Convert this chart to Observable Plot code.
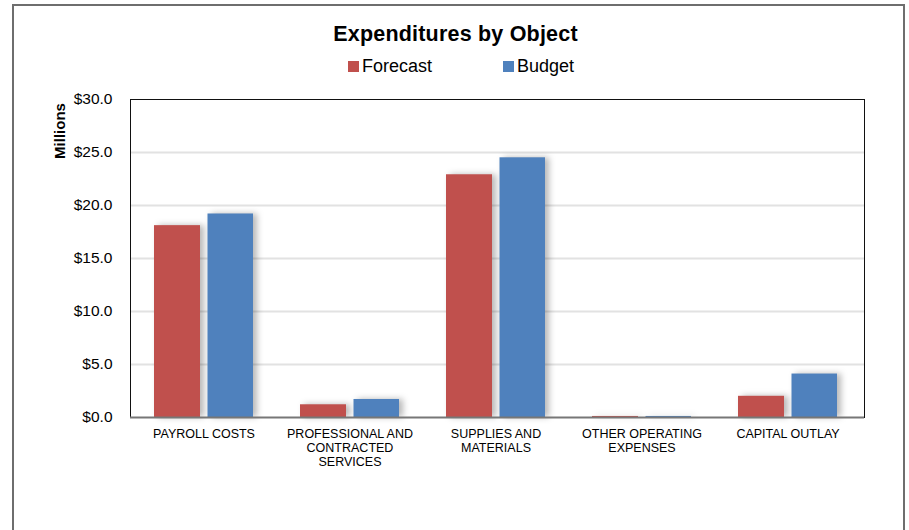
<!DOCTYPE html>
<html>
<head>
<meta charset="utf-8">
<script src="https://cdn.jsdelivr.net/npm/d3@7"></script>
<script src="https://cdn.jsdelivr.net/npm/@observablehq/plot@0.6"></script>
<style>
  html, body { margin: 0; padding: 0; background: #fff; }
  body { width: 909px; height: 530px; position: relative; overflow: hidden; font-family: "Liberation Sans", Arial, sans-serif; }
  #box { position: absolute; left: 12px; top: 4px; width: 893px; height: 600px; border: 2px solid #6e6e6e; box-sizing: border-box; }
  #title { position: absolute; left: 0; width: 911px; top: 22px; text-align: center; font-weight: bold; font-size: 21.5px; color: #000; letter-spacing: 0.2px; }
  #legend { position: absolute; top: 55px; left: 0; width: 909px; height: 24px; }
  .item { position: absolute; top: 0; font-size: 18px; color: #000; line-height: 22px; }
  .sw { display: inline-block; width: 11px; height: 11px; margin-right: 3px; vertical-align: 0px; }
  #ylabel { position: absolute; left: 59px; top: 131px; transform: translate(-50%, -50%) rotate(-90deg); font-weight: bold; font-size: 15px; white-space: nowrap; }
  #chart { position: absolute; left: 0; top: 80px; }
</style>
</head>
<body>
<div id="box"></div>
<div id="title">Expenditures by Object</div>
<div id="legend"></div>
<div id="ylabel">Millions</div>
<div id="chart"></div>
<script>
const categories = ["PAYROLL COSTS", "PROFESSIONAL AND CONTRACTED SERVICES", "SUPPLIES AND MATERIALS", "OTHER OPERATING EXPENSES", "CAPITAL OUTLAY"];
const categoryLabels = ["PAYROLL COSTS", "PROFESSIONAL AND\nCONTRACTED\nSERVICES", "SUPPLIES AND\nMATERIALS", "OTHER OPERATING\nEXPENSES", "CAPITAL OUTLAY"];
const series = ["Forecast", "Budget"];
const forecast = [18.1, 1.2, 22.9, 0.1, 2.0];
const budget = [19.2, 1.7, 24.5, 0.1, 4.1];
const yTicks = [0, 5, 10, 15, 20, 25, 30];
const colors = ["#C0504D", "#4F81BD"];

const forecastData = categories.map((c, i) => ({cat: c, series: "Forecast", value: forecast[i]}));
const budgetData = categories.map((c, i) => ({cat: c, series: "Budget", value: budget[i]}));

// legend
const legend = document.getElementById("legend");
const legendPos = [348, 503];
series.forEach((s, i) => {
  const el = document.createElement("div");
  el.className = "item";
  el.style.left = legendPos[i] + "px";
  el.innerHTML = `<span class="sw" style="background:${colors[i]}"></span>${s}`;
  legend.appendChild(el);
});

const chart = Plot.plot({
  width: 909,
  height: 397,
  marginLeft: 130,
  marginRight: 45,
  marginTop: 19,
  marginBottom: 60,
  style: {fontFamily: "Liberation Sans, Arial, sans-serif", background: "transparent", overflow: "visible"},
  x: {domain: categories, paddingInner: 0.32, paddingOuter: 0.16, align: 0.47, label: null},
  y: {domain: [0, 30], label: null},
  color: {domain: series, range: colors},
  marks: [
    Plot.ruleY(yTicks.filter(d => d > 0 && d < 30), {stroke: "#e2e2e2", strokeWidth: 2}),
    Plot.barY(forecastData, {x: "cat", y: "value", fill: "series", insetRight: 53}),
    Plot.barY(budgetData, {x: "cat", y: "value", fill: "series", insetLeft: 53.5}),
    Plot.frame({stroke: "#111", strokeWidth: 1}),
    Plot.ruleY([0], {stroke: "#777", strokeWidth: 2}),
    Plot.axisY({ticks: yTicks, tickSize: 0, tickPadding: 18, fontSize: 15.5, tickFormat: d => "$" + d.toFixed(1), label: null}),
    Plot.axisX({tickSize: 0, tickPadding: 10, fontSize: 12.5, lineHeight: 1.13, label: null,
      tickFormat: d => categoryLabels[categories.indexOf(d)]})
  ]
});
document.getElementById("chart").appendChild(chart);
chart.querySelectorAll('g[aria-label="bar"]').forEach(g => {
  g.style.filter = "drop-shadow(4px 0px 3px rgba(0,0,0,0.28))";
});
chart.querySelectorAll('g[aria-label="x-axis tick label"] text, g[aria-label="y-axis tick label"] text').forEach(t => t.setAttribute("fill", "#000"));
</script>
</body>
</html>
